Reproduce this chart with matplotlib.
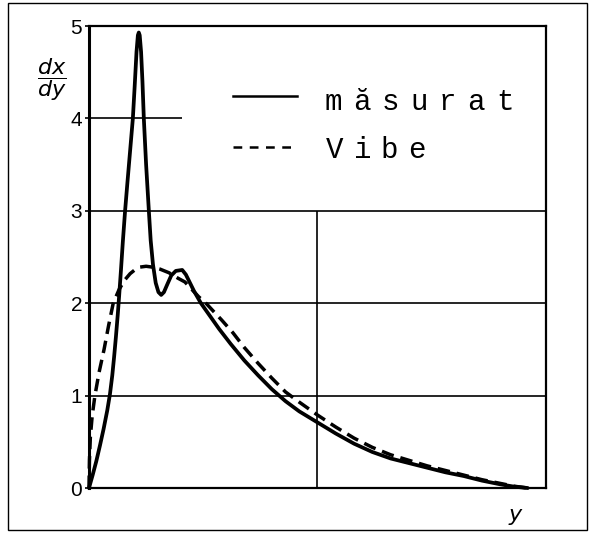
import matplotlib
matplotlib.use("Agg")
import matplotlib.pyplot as plt
from matplotlib.patches import Rectangle

# measured distribution (solid) and Vibe model (dashed), x normalised to 0..1
MEASURED_X = [0.000, 0.008, 0.016, 0.024, 0.032, 0.040, 0.046, 0.051, 0.055, 0.059,
              0.063, 0.066, 0.070, 0.074, 0.079, 0.084, 0.090, 0.096, 0.100, 0.104,
              0.107, 0.109, 0.111, 0.114, 0.117, 0.120, 0.125, 0.131, 0.135, 0.140,
              0.146, 0.152, 0.158, 0.164, 0.171, 0.180, 0.190, 0.204, 0.212, 0.220,
              0.230, 0.245, 0.265, 0.285, 0.310, 0.340, 0.370, 0.400, 0.430, 0.460,
              0.500, 0.540, 0.580, 0.620, 0.660, 0.700, 0.740, 0.780, 0.820, 0.860,
              0.900, 0.930, 0.960]
MEASURED_Y = [0.00, 0.14, 0.29, 0.46, 0.64, 0.84, 1.02, 1.22, 1.42, 1.64,
              1.88, 2.08, 2.36, 2.66, 3.00, 3.30, 3.65, 4.00, 4.35, 4.72,
              4.90, 4.93, 4.90, 4.72, 4.40, 4.00, 3.50, 3.00, 2.68, 2.42,
              2.22, 2.12, 2.09, 2.12, 2.20, 2.30, 2.35, 2.36, 2.31, 2.23,
              2.13, 2.00, 1.86, 1.72, 1.56, 1.38, 1.22, 1.07, 0.94, 0.83,
              0.71, 0.59, 0.48, 0.39, 0.32, 0.27, 0.22, 0.17, 0.13, 0.08,
              0.04, 0.015, 0.00]

VIBE_X = [0.000, 0.001, 0.003, 0.007, 0.013, 0.022, 0.033, 0.043, 0.053, 0.066,
          0.078, 0.090, 0.100, 0.110, 0.125, 0.140, 0.155, 0.175, 0.195, 0.210,
          0.225, 0.240, 0.256, 0.271, 0.290, 0.315, 0.340, 0.370, 0.400, 0.430,
          0.460, 0.500, 0.540, 0.580, 0.620, 0.660, 0.700, 0.740, 0.780, 0.820,
          0.860, 0.900, 0.930, 0.960]
VIBE_Y = [0.00, 0.30, 0.55, 0.78, 1.00, 1.25, 1.50, 1.76, 2.00, 2.15,
          2.25, 2.32, 2.36, 2.39, 2.40, 2.39, 2.37, 2.33, 2.27, 2.23,
          2.15, 2.07, 2.00, 1.92, 1.82, 1.68, 1.52, 1.35, 1.19, 1.04,
          0.93, 0.79, 0.66, 0.54, 0.44, 0.36, 0.30, 0.24, 0.19, 0.14,
          0.09, 0.05, 0.02, 0.00]

Y_TICKS = [0, 1, 2, 3, 4, 5]
LEGEND_LABELS = ["măsurat", "Vibe"]


def typewriter(ax, x, y, text, pitch, **kwargs):
    # fixed-pitch lettering, one cell per character
    for i, ch in enumerate(text):
        ax.text(x + i * pitch, y, ch, transform=ax.transAxes, ha="center", **kwargs)


def main():
    fig = plt.figure(figsize=(5.94, 5.37), dpi=100)
    ax = fig.add_axes([0.1498, 0.0912, 0.7694, 0.8603])

    # frame around the whole figure
    fig.patches.append(Rectangle((0.0135, 0.013), 0.9745, 0.9814, transform=fig.transFigure,
                                 fill=False, edgecolor="black", linewidth=1.0))

    ax.set_xlim(0, 1)
    ax.set_ylim(0, 5)

    # partial grid, left open where the legend sits
    ax.hlines([1, 2, 3], 0, 1, color="black", linewidth=1.2)
    ax.hlines(4, 0, 0.2035, color="black", linewidth=1.2)
    ax.vlines(0.5, 0, 3, color="black", linewidth=1.2)

    ax.plot(MEASURED_X, MEASURED_Y, color="black", linewidth=2.7,
            solid_joinstyle="round", solid_capstyle="round", clip_on=False)
    ax.plot(VIBE_X, VIBE_Y, color="black", linewidth=2.5, dashes=(3.6, 2.0), clip_on=False)

    # legend keys
    ax.plot([0.315, 0.455], [0.848, 0.848], color="black", linewidth=1.8, transform=ax.transAxes)
    ax.plot([0.315, 0.455], [0.738, 0.738], color="black", linewidth=1.8, dashes=(3.5, 3),
            transform=ax.transAxes)
    typewriter(ax, 0.535, 0.818, LEGEND_LABELS[0], 0.0625, va="baseline",
               family="Liberation Mono", fontsize=21)
    typewriter(ax, 0.538, 0.714, LEGEND_LABELS[1], 0.0600, va="baseline",
               family="Liberation Mono", fontsize=21)

    for side in ["top", "right", "bottom"]:
        ax.spines[side].set_linewidth(1.6)
    ax.spines["left"].set_linewidth(2.2)

    ax.set_xticks([])
    ax.set_yticks(Y_TICKS)
    ax.set_yticklabels([str(t) for t in Y_TICKS], family="Liberation Sans", fontsize=15)
    ax.tick_params(axis="y", direction="out", length=3, width=1.2, pad=2)

    fig.text(0.0875, 0.851, r"$\dfrac{dx}{dy}$", fontsize=16, ha="center", va="center")
    fig.text(0.867, 0.041, "y", fontsize=16, style="italic", ha="center", va="center")

    fig.savefig("out.png", dpi=100)


if __name__ == "__main__":
    main()
